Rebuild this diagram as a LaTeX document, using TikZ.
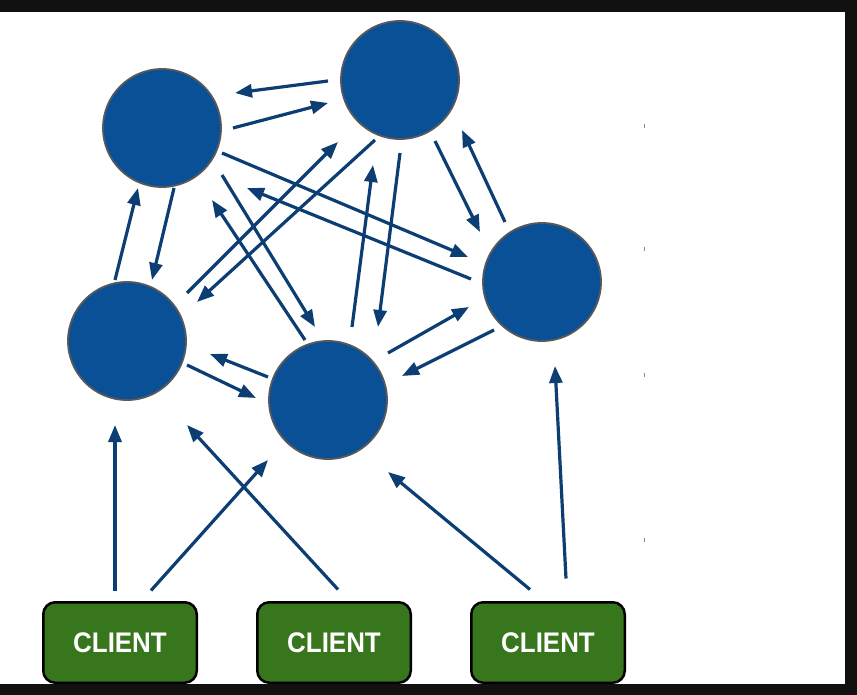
\documentclass[tikz,border=0pt]{standalone}
\usepackage{fontspec}
\setmainfont{Liberation Sans}
\usetikzlibrary{calc,arrows.meta}
\definecolor{nodeblue}{RGB}{9,80,150}
\definecolor{arrowblue}{RGB}{12,62,115}
\definecolor{clientgreen}{RGB}{56,118,29}
\definecolor{framebk}{RGB}{17,17,17}
\begin{document}
\begin{tikzpicture}[x=1pt,y=-1pt,
  server/.style={circle,fill=nodeblue,draw=black!65,line width=1.8pt,minimum size=118pt,inner sep=0pt},
  client/.style={rectangle,rounded corners=12pt,fill=clientgreen,draw=black,line width=2.5pt,
    minimum width=153.5pt,minimum height=80.5pt,inner sep=0pt,text=white,
    font=\fontsize{27}{27}\selectfont\bfseries},
  arr/.style={draw=arrowblue,line width=3.2pt,-{Triangle[length=17pt,width=13pt]}},
  tick/.style={draw=black!45,line width=0.8pt}]
\useasboundingbox (0,0) rectangle (857,695);
\fill[white] (0,0) rectangle (857,695);

% servers
\node[server] (A) at (162,128) {};
\node[server] (B) at (400,80) {};
\node[server] (C) at (542,282) {};
\node[server] (D) at (127,341) {};
\node[server] (E) at (328,400) {};

% clients
\node[client] (K1) at (120,642.5) {\scalebox{0.96}[1.05]{CLIENT}};
\node[client] (K2) at (334,642.5) {\scalebox{0.96}[1.05]{CLIENT}};
\node[client] (K3) at (548,642.5) {\scalebox{0.96}[1.05]{CLIENT}};

% server-server connectors
\draw[arr] ($(B)+(-72,1)$) -- ($(A)+(73,-35)$);
\draw[arr] ($(A)+(71,0)$) -- ($(B)+(-72,23)$);
\draw[arr] ($(A)+(12,60)$) -- ($(D)+(25,-61)$);
\draw[arr] ($(D)+(-12,-61)$) -- ($(A)+(-24,60)$);
\draw[arr] ($(A)+(60,25)$) -- ($(C)+(-74,-25)$);
\draw[arr] ($(C)+(-71,-3)$) -- ($(A)+(85,60)$);
\draw[arr] ($(D)+(60,-48)$) -- ($(B)+(-62,62)$);
\draw[arr] ($(B)+(-25,60)$) -- ($(D)+(70,-39)$);
\draw[arr] ($(A)+(60,47)$) -- ($(E)+(-13,-73)$);
\draw[arr] ($(E)+(-23,-60)$) -- ($(A)+(50,72)$);
\draw[arr] ($(E)+(24,-73)$) -- ($(B)+(-27,85)$);
\draw[arr] ($(B)+(0,73)$) -- ($(E)+(50,-73)$);
\draw[arr] ($(B)+(35,61)$) -- ($(C)+(-62,-50)$);
\draw[arr] ($(C)+(-37,-60)$) -- ($(B)+(62,50)$);
\draw[arr] ($(E)+(60,-47)$) -- ($(C)+(-73,25)$);
\draw[arr] ($(C)+(-48,48)$) -- ($(E)+(74,-24)$);
\draw[arr] ($(E)+(-60,-23)$) -- ($(D)+(83,13)$);
\draw[arr] ($(D)+(60,24)$) -- ($(E)+(-72,-2)$);

% client connectors
\draw[arr] ($(K1)+(-5,-52)$) -- ($(D)+(-12,84)$);
\draw[arr] ($(K1)+(31,-52)$) -- ($(E)+(-60,60)$);
\draw[arr] ($(K2)+(4,-53)$) -- ($(D)+(60,84)$);
\draw[arr] ($(K3)+(-18,-53)$) -- ($(E)+(60,72)$);
\draw[arr] ($(K3)+(18,-64)$) -- ($(C)+(13,84)$);

% faint marks
\draw[tick] (644,124) -- (644,128);
\draw[tick] (644,247) -- (644,251);
\draw[tick] (644,373) -- (644,377);
\draw[tick] (644,538) -- (644,542);

% dark frame
\fill[framebk] (0,0) rectangle (857,12.5);
\fill[framebk] (845,0) rectangle (857,695);
\fill[framebk] (0,684) rectangle (857,695);
\end{tikzpicture}
\end{document}
